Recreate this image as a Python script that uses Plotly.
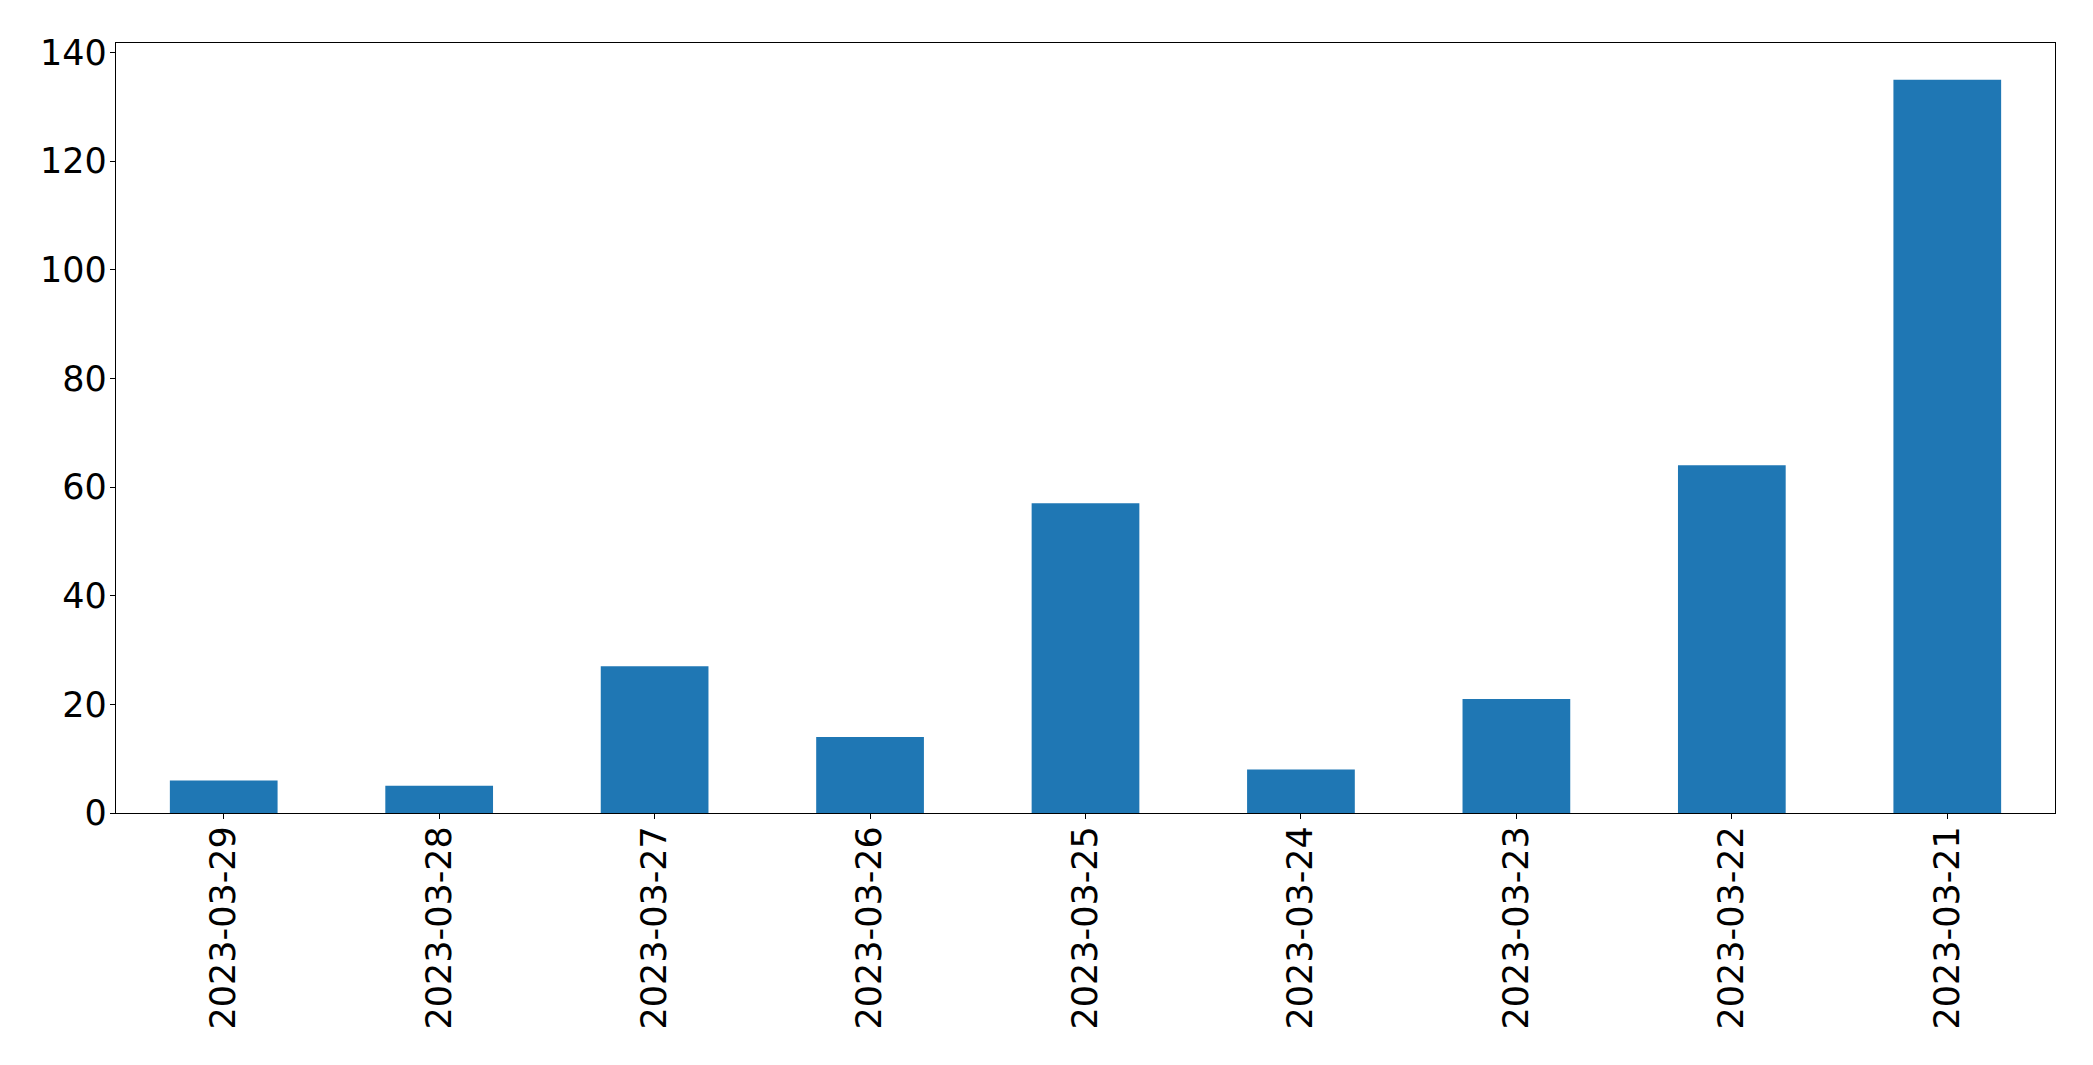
import plotly.graph_objects as go

dates = ["2023-03-29", "2023-03-28", "2023-03-27", "2023-03-26", "2023-03-25",
         "2023-03-24", "2023-03-23", "2023-03-22", "2023-03-21"]
counts = [6, 5, 27, 14, 57, 8, 21, 64, 135]
y_ticks = [0, 20, 40, 60, 80, 100, 120, 140]

fig = go.Figure()
fig.add_trace(go.Bar(x=dates, y=counts, marker=dict(color="#1f77b4", line=dict(width=0)), width=0.5))

axis_common = dict(showline=True, linecolor="black", linewidth=1.3, mirror=True,
                   ticks="outside", ticklen=5, tickwidth=1.3, tickcolor="black",
                   showgrid=False, zeroline=False,
                   tickfont=dict(family="DejaVu Sans", size=35, color="black"))

fig.update_layout(
    width=2085, height=1057,
    margin=dict(l=108, r=38, t=35, b=252),
    paper_bgcolor="white", plot_bgcolor="white",
    showlegend=False,
    xaxis=dict(type="category", range=[-0.5, 8.5], tickangle=-90, ticklabelstandoff=-7, **axis_common),
    yaxis=dict(range=[0, 141.75], tickvals=y_ticks, ticktext=[str(v) for v in y_ticks],
               ticklabelstandoff=-4, **axis_common),
)

fig.write_html("out.html")
